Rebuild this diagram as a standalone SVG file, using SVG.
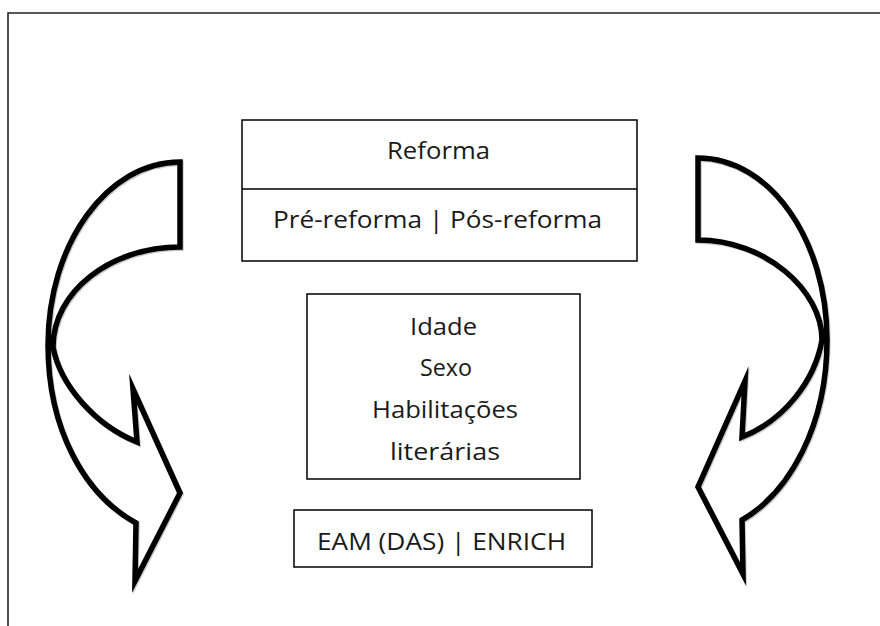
<svg xmlns="http://www.w3.org/2000/svg" width="880" height="626" viewBox="0 0 880 626">
<style>
.box{fill:#fff;stroke:#000;stroke-width:1.5}
.arrow{fill:none;stroke:#000;stroke-width:5.5;stroke-linejoin:miter;stroke-miterlimit:10}
.shadow{fill:none;stroke:#c8c8c8;stroke-width:5.5;stroke-linejoin:miter;stroke-miterlimit:10}
text{font-family:"Open Sans","Liberation Sans",sans-serif;font-size:23px;fill:#1a1a1a;text-anchor:middle}
</style>
<defs>
<path id="leftArrow" d="M180,162 C107,162 48,244 48,345 C48,430 85,495 136,523 L135,581 L180,493 L133,389 L137,442 C95,425 60,385 53,347 C53,292 110,247 180,247 Z"/>
<path id="rightArrow" d="M698,158 C770,158 827,240 827,340 C827,425 790,492 742,520 L743,574 L698,487 L745,381 L742,437 C785,420 815,380 822,340 C822,290 765,240 698,240 Z"/>
</defs>
<rect width="880" height="626" fill="#fff"/>
<path d="M8,640 L8,13 L890,13" fill="none" stroke="#222" stroke-width="1.6"/>
<g id="connectors">
<g id="arrow-left">
<use href="#leftArrow" class="shadow" transform="translate(1,1.2)"/>
<use href="#leftArrow" class="arrow"/>
</g>
<g id="arrow-right">
<use href="#rightArrow" class="shadow" transform="translate(1,1.2)"/>
<use href="#rightArrow" class="arrow"/>
</g>
</g>
<g id="reforma">
<rect class="box" x="242" y="120" width="395" height="141"/>
<line x1="242" y1="189" x2="637" y2="189" stroke="#000" stroke-width="1.5"/>
<text x="438.5" y="159" textLength="103" lengthAdjust="spacingAndGlyphs">Reforma</text>
<text x="437.5" y="228" textLength="329" lengthAdjust="spacingAndGlyphs">Pré-reforma | Pós-reforma</text>
</g>
<g id="variaveis">
<rect class="box" x="307" y="294" width="273" height="185"/>
<text x="443.5" y="335" textLength="67" lengthAdjust="spacingAndGlyphs">Idade</text>
<text x="446" y="376" textLength="52" lengthAdjust="spacingAndGlyphs">Sexo</text>
<text x="445" y="418" textLength="146" lengthAdjust="spacingAndGlyphs">Habilitações</text>
<text x="445" y="460" textLength="110" lengthAdjust="spacingAndGlyphs">literárias</text>
</g>
<g id="escalas">
<rect class="box" x="294" y="510" width="298" height="57"/>
<text x="441.5" y="550" textLength="249" lengthAdjust="spacingAndGlyphs">EAM (DAS) | ENRICH</text>
</g>
</svg>
